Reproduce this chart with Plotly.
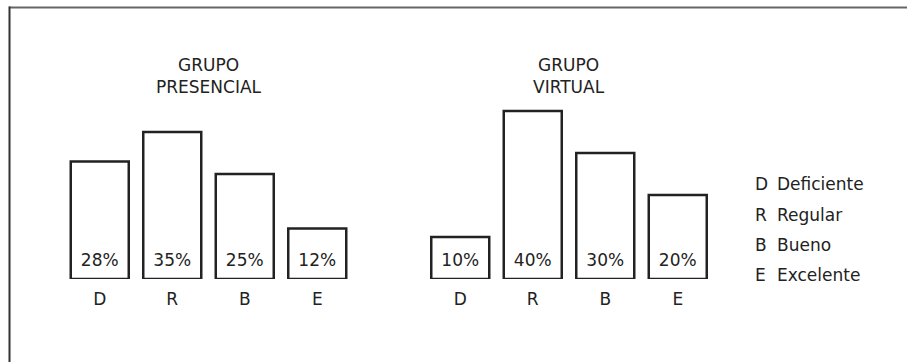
import plotly.graph_objects as go

# --- data -------------------------------------------------------------
categories = ["D", "R", "B", "E"]
presencial = [28, 35, 25, 12]
virtual = [10, 40, 30, 20]
group_titles = ["GRUPO<br>PRESENCIAL", "GRUPO<br>VIRTUAL"]
legend_keys = ["D", "R", "B", "E"]
legend_labels = ["Deficiente", "Regular", "Bueno", "Excelente"]

# --- layout constants (pixels) ----------------------------------------
W, H = 907, 362
PLOT_BOTTOM = 279          # pixel row of the bar baseline
PX_PER_PCT = 4.2
FONT = "DejaVu Sans"
FS = 17
INK = "#222222"
LABEL_LIFT = 17 / PX_PER_PCT   # value labels sit this far above the baseline

def px_x(p):
    return p / W

def px_y(p):
    # paper y for a pixel row (plot area spans 0..PLOT_BOTTOM)
    return 1 - p / PLOT_BOTTOM

fig = go.Figure()

for vals, xa, ya in [(presencial, "x", "y"), (virtual, "x2", "y2")]:
    fig.add_trace(go.Bar(
        x=categories, y=vals, xaxis=xa, yaxis=ya,
        width=0.8,
        marker=dict(color="white", line=dict(color=INK, width=2.5)),
        showlegend=False, hoverinfo="skip",
    ))
    # percentage labels near the foot of each bar
    fig.add_trace(go.Scatter(
        x=categories, y=[LABEL_LIFT] * len(vals), xaxis=xa, yaxis=ya,
        mode="text", text=[f"{v}%" for v in vals], textposition="middle center",
        textfont=dict(family=FONT, size=FS, color=INK),
        showlegend=False, hoverinfo="skip",
    ))

y_top = PLOT_BOTTOM / PX_PER_PCT
axis_common = dict(showgrid=False, zeroline=False, showline=False, ticks="",
                   tickfont=dict(family=FONT, size=FS, color=INK),
                   fixedrange=True)
fig.update_layout(
    width=W, height=H,
    margin=dict(l=0, r=0, t=0, b=H - PLOT_BOTTOM),
    paper_bgcolor="white", plot_bgcolor="white",
    xaxis=dict(domain=[px_x(63.5), px_x(353.5)], anchor="y",
               ticklabelstandoff=8, **axis_common),
    xaxis2=dict(domain=[px_x(424), px_x(714)], anchor="y2",
                ticklabelstandoff=8, **axis_common),
    yaxis=dict(range=[0, y_top], visible=False, fixedrange=True),
    yaxis2=dict(range=[0, y_top], visible=False, fixedrange=True, anchor="x2"),
    bargap=0.2,
)

# group titles
for title, xref in zip(group_titles, ["x domain", "x2 domain"]):
    fig.add_annotation(text=title, xref=xref, x=0.5, yref="paper", y=px_y(53),
                       xanchor="center", yanchor="top", showarrow=False,
                       font=dict(family=FONT, size=FS, color=INK))

# key of category letters
row_y = [184, 214.5, 245, 275]
for key, label, ry in zip(legend_keys, legend_labels, row_y):
    fig.add_annotation(text=key, xref="paper", x=px_x(753), yref="paper", y=px_y(ry),
                       xanchor="left", yanchor="middle", showarrow=False,
                       font=dict(family=FONT, size=FS, color=INK))
    fig.add_annotation(text=label, xref="paper", x=px_x(775), yref="paper", y=px_y(ry),
                       xanchor="left", yanchor="middle", showarrow=False,
                       font=dict(family=FONT, size=FS, color=INK))

# frame lines along the top and left edges
fig.add_shape(type="line", xref="paper", yref="paper",
              x0=px_x(9), x1=1, y0=px_y(7.5), y1=px_y(7.5),
              line=dict(color="#666666", width=2))
fig.add_shape(type="line", xref="paper", yref="paper",
              x0=px_x(9.5), x1=px_x(9.5), y0=px_y(6.5), y1=px_y(H),
              line=dict(color="#333333", width=2))

fig.write_html("out.html", config={"displayModeBar": False})
